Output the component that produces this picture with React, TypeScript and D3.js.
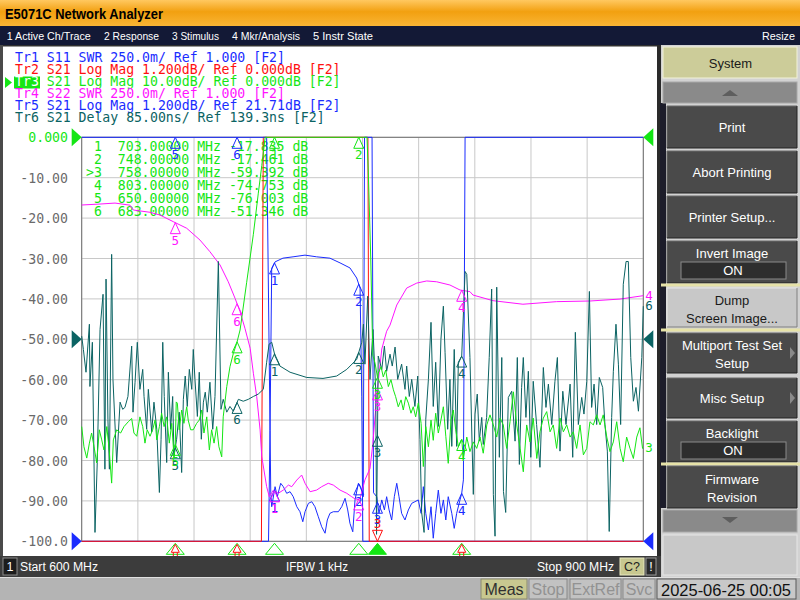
import React from 'react';
import * as d3 from 'd3';

// ---------------- data ----------------
const freqStart = 600;
const freqStop = 900;
const freqGrid = [600, 630, 660, 690, 720, 750, 780, 810, 840, 870, 900];
const yTickValues = [0, -10, -20, -30, -40, -50, -60, -70, -80, -90, -100];
const yTickLabels = ['0.000', '-10.00', '-20.00', '-30.00', '-40.00', '-50.00', '-60.00', '-70.00', '-80.00', '-90.00', '-100.0'];

const markerFreqs = [703, 748, 758, 803, 650, 683];
const markerNames = ['1', '2', '3', '4', '5', '6'];
const markerFreqText = ['703.00000', '748.00000', '758.00000', '803.00000', '650.00000', '683.00000'];
const markerReadouts = ['-17.835', '-17.461', '-59.392', '-74.753', '-76.003', '-51.346'];

const legendNames = ['Tr1', 'Tr2', 'Tr3', 'Tr4', 'Tr5', 'Tr6'];
const legendRest = [
  ' S11 SWR 250.0m/ Ref 1.000 [F2]',
  ' S21 Log Mag 1.200dB/ Ref 0.000dB [F2]',
  ' S21 Log Mag 10.00dB/ Ref 0.000dB [F2]',
  ' S22 SWR 250.0m/ Ref 1.000 [F2]',
  ' S21 Log Mag 1.200dB/ Ref 21.71dB [F2]',
  ' S21 Delay 85.00ns/ Ref 139.3ns [F2]',
];

const menuItems = ['1 Active Ch/Trace', '2 Response', '3 Stimulus', '4 Mkr/Analysis', '5 Instr State'];
const softkeys = ['Print', 'Abort Printing', 'Printer Setup...'];

// Tr1 S11 SWR
const tr1Data: [number, number][] = [
  [600, 6], [698.8, 6], [701.0, 1.3], [701.5, 1.214], [703.3, 1.338], [704.5, 1.276], [706.3, 1.359], [707.7, 1.338],
  [709.5, 1.297], [711.3, 1.307], [713.0, 1.276], [714.9, 1.214], [716.6, 1.183], [718.1, 1.121], [719.3, 1.183],
  [721.1, 1.235], [722.9, 1.245], [724.6, 1.214], [726.4, 1.152], [728.2, 1.09], [730.0, 1.05], [731.2, 1.132],
  [732.6, 1.173], [734.4, 1.183], [737.1, 1.183], [738.9, 1.214], [740.7, 1.266], [742.1, 1.194], [743.3, 1.111],
  [744.8, 1.059], [746.0, 1.256], [747.8, 1.359], [749.0, 1.338], [750.4, 1.276], [751.1, 6], [755.1, 6],
  [755.9, 1.3], [757.6, 1.276], [758.8, 1.173], [760.3, 1.256], [761.7, 1.194], [762.9, 1.276], [764.2, 1.194],
  [765.6, 1.132], [767.0, 1.276], [768.3, 1.359], [769.5, 1.276], [770.9, 1.173], [772.7, 1.132], [774.5, 1.194],
  [776.3, 1.235], [778.0, 1.245], [779.8, 1.256], [781.3, 1.173], [782.5, 1.338], [783.8, 1.173], [785.2, 1.07],
  [786.6, 1.214], [787.8, 1.019], [789.1, 1.173], [790.5, 1.317], [791.9, 1.173], [793.2, 1.256], [794.5, 1.132],
  [795.8, 1.276], [797.7, 1.173], [799.0, 1.08], [800.3, 1.173], [802.1, 1.256], [803.0, 1.297], [803.9, 1.38],
  [804.8, 6], [900, 6],
];

// Tr2 S21 Log Mag (1.2 dB/div)
const tr2Data: [number, number][] = [
  [600, -20], [696.0, -20], [697.0, 1], [752.9, 1], [753.6, -20], [900, -20],
];

// Tr3 S21 Log Mag (10 dB/div) - active trace
const tr3Data: [number, number][] = [
  [600, -71.6], [601.2, -76.6], [602.7, -79.4], [604.1, -75.7], [605.3, -73.2], [606.6, -76.6], [608.0, -80.6],
  [609.4, -72.4], [610.7, -74.9], [611.9, -77.4], [613.4, -71.6], [614.7, -77.4], [616.0, -85.6], [616.9, -74.9],
  [618.7, -72.4], [620.8, -73.2], [622.6, -71.6], [624.9, -70.4], [626.7, -69.6], [627.9, -73.2], [629.4, -74.0],
  [631.1, -69.2], [632.6, -71.6], [633.8, -75.7], [635.0, -72.4], [636.5, -74.0], [637.9, -72.4], [639.2, -70.0],
  [640.1, -74.9], [641.5, -71.6], [642.7, -68.3], [644.0, -71.6], [645.4, -69.2], [646.8, -75.7], [648.1, -70.8],
  [649.3, -79.1], [650.0, -76.0], [650.5, -65.5], [651.1, -65.8], [652.1, -72.4], [653.4, -67.5], [654.6, -70.8],
  [656.1, -66.7], [656.9, -70.0], [658.2, -72.4], [659.6, -72.4], [661.4, -70.8], [662.8, -70.0], [664.1, -67.5],
  [665.3, -73.2], [666.8, -69.2], [668.2, -77.4], [669.4, -72.4], [670.7, -75.7], [672.1, -71.6], [673.3, -76.6],
  [674.8, -79.1], [675.6, -69.2], [677.5, -61.7], [679.2, -56.8], [681.0, -53.5], [682.8, -51.0], [684.6, -47.7],
  [688.1, -36], [691.7, -24], [694.3, -14], [696.2, -7], [698.0, 1], [700, 2], [750, 2], [752.4, 1],
  [753.1, -8.6], [754.4, -29.9], [755.5, -53.9], [756.7, -55.9], [758.0, -59.4], [758.4, -58.4], [759.9, -56.8],
  [761.1, -59.3], [762.4, -57.6], [763.8, -61.7], [765.2, -60.0], [766.5, -62.5], [767.7, -64.2], [769.1, -66.7],
  [770.6, -65.0], [771.8, -67.5], [773.1, -64.2], [774.5, -65.8], [775.9, -68.3], [777.1, -66.7], [778.4, -69.2],
  [779.8, -65.8], [781.3, -70.8], [782.5, -81.5], [783.8, -71.6], [785.2, -76.6], [786.6, -70.0], [787.8, -75.0],
  [789.1, -68.3], [790.5, -73.2], [791.9, -70.0], [793.2, -66.7], [794.5, -74.0], [795.8, -80.7], [797.3, -70.0],
  [798.5, -67.5], [799.8, -72.4], [801.2, -76.6], [802.6, -75.0], [803.0, -74.8], [803.9, -79.5], [805.7, -74.2],
  [807.4, -77.8], [809.2, -75.4], [811.0, -77.0], [812.8, -74.2], [814.5, -78.2], [816.4, -71.2], [818.1, -68.7],
  [819.9, -71.2], [821.7, -74.2], [823.5, -69.5], [825.2, -71.2], [827.0, -77.0], [828.8, -70.4], [830.6, -63.0],
  [832.4, -71.2], [834.2, -77.0], [835.9, -82.8], [837.7, -71.2], [839.5, -75.4], [841.2, -69.5], [843.1, -79.5],
  [844.8, -72.9], [846.6, -69.5], [848.4, -67.9], [850.2, -72.9], [851.9, -71.2], [853.7, -77.0], [855.5, -69.5],
  [857.3, -72.9], [859.1, -71.2], [860.9, -74.2], [862.6, -72.9], [864.4, -77.0], [866.2, -71.2], [868.0, -78.6],
  [869.8, -77.0], [871.5, -70.4], [873.3, -71.2], [875.1, -68.7], [876.9, -71.2], [878.6, -68.7], [880.5, -74.2],
  [882.2, -77.8], [884.0, -75.4], [885.8, -70.4], [887.6, -77.0], [889.3, -80.3], [891.1, -74.2], [892.9, -77.0],
  [894.7, -79.5], [896.5, -74.2], [898.2, -71.9], [899.6, -77.0], [900, -77.0],
];

// Tr4 S22 SWR
const tr4Data: [number, number][] = [
  [600, 3.081], [609.8, 3.087], [617.8, 3.093], [625.8, 3.08], [627.6, 3.05], [636.5, 3.036], [641.8, 3.019],
  [648.9, 2.978], [656.1, 2.937], [663.2, 2.864], [668.5, 2.792], [673.9, 2.71], [678.3, 2.606], [681.9, 2.504],
  [684.6, 2.421], [687.2, 2.318], [690.0, 2.194], [691.7, 2.04], [693.5, 1.895], [695.3, 1.689], [696.2, 1.524],
  [698.8, 1.338], [700.2, 1.276], [702.4, 1.317], [705.0, 1.297], [707.7, 1.317], [710.4, 1.348], [712.2, 1.338],
  [714.9, 1.379], [717.5, 1.41], [719.3, 1.359], [722.0, 1.307], [725.5, 1.317], [728.2, 1.338], [731.7, 1.359],
  [734.4, 1.348], [738.0, 1.317], [741.6, 1.297], [744.2, 1.276], [746.9, 1.256], [748.7, 1.266], [751.3, 1.38],
  [754.0, 1.45], [755.5, 1.6], [757.6, 1.9], [760.3, 2.19], [762.9, 2.3], [764.7, 2.338], [768.3, 2.462],
  [773.6, 2.567], [779.0, 2.598], [784.3, 2.611], [789.6, 2.606], [796.7, 2.586], [802.1, 2.555], [807.4, 2.545],
  [809.0, 2.524], [819.7, 2.489], [835.7, 2.467], [853.7, 2.483], [871.5, 2.487], [887.6, 2.499], [900, 2.52],
];

// Tr5 S21 Log Mag (1.2 dB/div, ref 21.71 dB)
const tr5Data: [number, number][] = [
  [600, 10], [699.8, 10], [700.6, 25], [701.5, 29.82], [703.3, 30.01], [707.5, 30.12], [712.9, 30.16],
  [719.3, 30.21], [725.5, 30.16], [732.6, 30.12], [738.0, 29.98], [743.3, 29.83], [746.9, 29.53], [748.7, 29.23],
  [749.6, 26], [750.2, 10], [900, 10],
];

// Tr6 S21 Group delay (ns)
const tr6Data: [number, number][] = [
  [600, 146], [600.9, 118], [602.3, 70], [604.1, 171], [604.4, 40], [605.7, 133], [607.1, -267], [608.3, -120],
  [609.8, 160], [611.4, 234], [612.4, -134], [613.0, 266], [614.0, -29], [614.8, -134], [616.0, 318], [616.7, 55],
  [618.7, -120], [620.5, 7], [621.9, -8], [623.1, -4], [624.7, 19], [626.7, 125], [627.4, -14], [628.5, 49],
  [629.7, 133], [631.1, 34], [632.6, 76], [633.3, 19], [634.7, -50], [635.6, 34], [637.4, -56], [638.6, 7],
  [640.1, -50], [641.5, -183], [642.4, -71], [643.3, 133], [644.1, 19], [645.4, -120], [646.3, 70], [647.5, -50],
  [648.6, 19], [649.3, -107], [650.7, -71], [652.1, -14], [653.4, -141], [654.3, 13], [655.3, 62], [656.4, -2],
  [657.5, 76], [658.8, 34], [659.6, 118], [660.5, 55], [661.8, -23], [662.8, 70], [663.9, -71], [665.0, 7],
  [666.0, 28], [667.1, -14], [668.5, 49], [670.0, -50], [671.2, 19], [673.0, 303], [674.4, -8], [675.6, 13],
  [677.5, -14], [679.2, -2], [681.0, -12], [683.7, 13], [686.3, 9], [689.0, 13], [691.7, 19], [694.3, 24],
  [697.0, 34], [698.8, 91], [700.1, 129], [701.5, 133], [703.3, 104], [705.9, 83], [711.3, 70], [720.2, 59],
  [728.9, 57], [736.2, 62], [741.6, 76], [746.9, 97], [749.6, 133], [750.5, 171], [751.3, 87], [752.8, 230],
  [754.0, 55], [755.6, 160], [757.1, 28], [757.5, -271], [758.4, 104], [760.3, 76], [761.7, 125], [762.9, 72],
  [764.7, 108], [765.9, 83], [767.4, 123], [768.8, 55], [770.9, 87], [772.7, 34], [773.6, 83], [775.0, 19],
  [776.3, 55], [778.0, -2], [779.5, 62], [780.7, -71], [781.6, -225], [782.9, -267], [783.8, -29], [785.2, 55],
  [786.6, 175], [787.8, -2], [789.1, 91], [790.5, -44], [791.9, 139], [793.2, 209], [794.1, 112], [795.5, -50],
  [796.7, 55], [797.7, -86], [799.0, 118], [800.3, -86], [801.2, 91], [803.0, 104], [804.8, 282], [805.7, 276],
  [807.4, 101], [809.2, -187], [810.1, -18], [811.3, 24], [812.4, -75], [813.7, -25], [814.5, -82], [816.3, -25],
  [817.7, 101], [819.0, 245], [819.9, -187], [820.8, -275], [821.7, 249], [823.1, -109], [824.4, 101],
  [825.3, -181], [826.5, -225], [827.9, 17], [829.7, 30], [831.5, -75], [832.7, 101], [833.8, -124], [835.0, 38],
  [835.9, 101], [837.3, -25], [838.6, 72], [839.9, -109], [841.2, 51], [843.0, -40], [844.8, -130], [846.6, 80],
  [848.0, -4], [849.3, 45], [851.1, -40], [852.8, 51], [854.1, 101], [855.5, -96], [857.0, 30], [858.7, -40],
  [860.9, 45], [862.3, -109], [863.7, 154], [865.3, -40], [867.1, 17], [868.3, -18], [869.8, 51], [871.2, 240],
  [872.4, -4], [873.7, 45], [875.1, -40], [876.5, 59], [878.3, 38], [879.5, -40], [880.8, -96], [881.8, -265],
  [883.1, -25], [884.0, 72], [885.4, 171], [886.7, 87], [887.9, -40], [889.3, 255], [890.8, 303], [892.0, 303],
  [893.3, 101], [894.7, 9], [896.1, 38], [897.4, -12], [899.2, 101], [900, 209],
];

// ---------------- styling ----------------
const BLUE = '#1a2cff';
const RED = '#ff1010';
const GREEN = '#14e614';
const MAGENTA = '#ff14ff';
const TEAL = '#0b6363';
const GRID = '#c8c8c8';
const MONO = '"DejaVu Sans Mono", monospace';
const SANS = '"Liberation Sans", Arial, sans-serif';
const legendColors = [BLUE, RED, GREEN, MAGENTA, BLUE, TEAL];

const PL = 81.7, PR = 643.3, PT = 137.3, PB = 541.3;

function valueAt(data: [number, number][], f: number) {
  const i = d3.bisector((d: [number, number]) => d[0]).left(data, f);
  if (i <= 0) return data[0][1];
  if (i >= data.length) return data[data.length - 1][1];
  const [f0, v0] = data[i - 1];
  const [f1, v1] = data[i];
  return v0 + ((v1 - v0) * (f - f0)) / (f1 - f0);
}

function MarkerGlyph({ x, y, label, color }: { x: number; y: number; label: string; color: string }) {
  return (
    <g>
      <path d={`M${x},${y}L${x - 5},${y + 11}L${x + 5},${y + 11}Z`} fill="none" stroke={color} strokeWidth={1} />
      <text x={x} y={y + 22} textAnchor="middle" fontSize={12.5} fontFamily={MONO} fill={color}>{label}</text>
    </g>
  );
}

function Button({ y, h, lines, dark = true, arrow = false, onBox = false }: any) {
  const fill = dark ? '#4a4a4a' : '#c8c8c8';
  const tc = dark ? '#ffffff' : '#1a1a1a';
  const cy = y + h / 2;
  return (
    <g>
      <rect x={667} y={y} width={130} height={h} fill={fill} />
      <path d={`M667,${y + h}V${y}H797`} fill="none" stroke={dark ? '#6a6a6a' : '#e8e8e8'} />
      <path d={`M667,${y + h}H797V${y}`} fill="none" stroke={dark ? '#222' : '#808080'} />
      {onBox ? (
        <g>
          <text x={732} y={y + 17} textAnchor="middle" fontSize={13} fontFamily={SANS} fill={tc}>{lines[0]}</text>
          <rect x={681} y={y + 21} width={105} height={17} fill="#2e2e2e" stroke="#8a8a8a" />
          <text x={733} y={y + 34} textAnchor="middle" fontSize={13} fontFamily={SANS} fill="#fff">ON</text>
        </g>
      ) : lines.length === 1 ? (
        <text x={732} y={cy + 5} textAnchor="middle" fontSize={13} fontFamily={SANS} fill={tc}>{lines[0]}</text>
      ) : (
        <g>
          <text x={732} y={cy - 3} textAnchor="middle" fontSize={13} fontFamily={SANS} fill={tc}>{lines[0]}</text>
          <text x={732} y={cy + 15} textAnchor="middle" fontSize={13} fontFamily={SANS} fill={tc}>{lines[1]}</text>
        </g>
      )}
      {arrow && <path d={`M790,${cy - 6}L795,${cy}L790,${cy + 6}Z`} fill="#8a8a8a" />}
    </g>
  );
}

export default function App() {
  const x = d3.scaleLinear().domain([freqStart, freqStop]).range([PL, PR]);
  const yDb3 = d3.scaleLinear().domain([-100, 0]).range([PB, PT]).clamp(true);
  const ySwr = d3.scaleLinear().domain([1, 3.5]).range([PB, PT]).clamp(true);
  const yDb2 = d3.scaleLinear().domain([-12, 0]).range([PB, PT]).clamp(true);
  const yDb5 = d3.scaleLinear().domain([21.71, 33.71]).range([PB, PT]).clamp(true);
  const yDelay = d3.scaleLinear().domain([139.3 - 5 * 85, 139.3 + 5 * 85]).range([PB, PT]).clamp(true);

  const traces = [
    { id: 'tr5', color: BLUE, data: tr5Data, y: yDb5, markers: [0, 1] },
    { id: 'tr2', color: RED, data: tr2Data, y: yDb2, markers: [] as number[] },
    { id: 'tr1', color: BLUE, data: tr1Data, y: ySwr, markers: [0, 1, 2, 3, 4, 5] },
    { id: 'tr4', color: MAGENTA, data: tr4Data, y: ySwr, markers: [0, 1, 2, 3, 4, 5] },
    { id: 'tr6', color: TEAL, data: tr6Data, y: yDelay, markers: [0, 1, 2, 3, 4, 5] },
    { id: 'tr3', color: GREEN, data: tr3Data, y: yDb3, markers: [0, 1, 2, 3, 4, 5] },
  ];

  const endLabels = [
    { name: '4', color: MAGENTA, data: tr4Data, y: ySwr },
    { name: '6', color: TEAL, data: tr6Data, y: yDelay },
    { name: '3', color: GREEN, data: tr3Data, y: yDb3 },
  ];

  const menuX = [6.7, 104, 172, 232, 313];
  const menuW = [84, 55, 47, 68, 60];

  return (
    <div style={{ position: 'fixed', left: 0, top: 0, width: 800, height: 600 }}>
      <svg width={800} height={600} style={{ display: 'block' }}>
        <defs>
          <linearGradient id="titleGrad" x1="0" y1="0" x2="0" y2="1">
            <stop offset="0" stopColor="#ffc860" />
            <stop offset="0.45" stopColor="#f2a010" />
            <stop offset="1" stopColor="#f9b535" />
          </linearGradient>
        </defs>
        <rect x={0} y={0} width={800} height={600} fill="#c4c4c4" />
        {/* title bar */}
        <rect x={0} y={0} width={800} height={26} fill="url(#titleGrad)" />
        <text x={5} y={19} fontSize={14} fontWeight="bold" fontFamily={SANS} fill="#000" textLength={158} lengthAdjust="spacingAndGlyphs">E5071C Network Analyzer</text>
        {/* menu bar */}
        <rect x={0} y={26} width={800} height={19} fill="#131936" />
        {menuItems.map((m, i) => (
          <text key={m} x={menuX[i]} y={39.5} fontSize={11.5} fontFamily={SANS} fill="#fff" textLength={menuW[i]} lengthAdjust="spacingAndGlyphs">{m}</text>
        ))}
        <text x={762} y={39.5} fontSize={11.5} fontFamily={SANS} fill="#fff" textLength={33} lengthAdjust="spacingAndGlyphs">Resize</text>

        {/* main window */}
        <rect x={0} y={45} width={3} height={512} fill="#4a4a4a" />
        <rect x={3} y={45} width={654} height={511} fill="#ffffff" />
        <rect x={3} y={45} width={654} height={1.5} fill="#303030" />
        <rect x={657} y={45} width={4} height={512} fill="#2a2a2a" />

        {/* trace legend */}
        <rect x={14} y={76.5} width={26} height={12} fill={GREEN} />
        <path d="M5,77L12,82.5L5,88Z" fill={GREEN} />
        {legendNames.map((n, i) => (
          <text key={n} x={15} y={62 + i * 11.9} fontSize={13.2} fontFamily={MONO} fill={legendColors[i]} style={{ whiteSpace: 'pre' }}>
            <tspan fill={i === 2 ? '#ffffff' : legendColors[i]}>{n}</tspan>
            <tspan>{legendRest[i]}</tspan>
          </text>
        ))}

        {/* grid */}
        {freqGrid.map((f) => (
          <line key={'gx' + f} x1={x(f)} x2={x(f)} y1={PT} y2={PB} stroke={GRID} />
        ))}
        {yTickValues.map((v) => (
          <line key={'gy' + v} x1={PL} x2={PR} y1={yDb3(v)} y2={yDb3(v)} stroke={GRID} />
        ))}
        <rect x={PL} y={PT} width={PR - PL} height={PB - PT} fill="none" stroke="#707070" />

        {/* y tick labels */}
        {yTickValues.map((v, i) => (
          <text key={'yl' + v} x={68} y={yDb3(v) + 5} textAnchor="end" fontSize={13.2} fontFamily={MONO} fill={i === 0 ? GREEN : '#6a6a6a'}>{yTickLabels[i]}</text>
        ))}

        {/* marker table */}
        {markerNames.map((n, i) => (
          <text key={'mt' + n} x={86} y={151.3 + i * 13} fontSize={13.2} fontFamily={MONO} fill={GREEN} style={{ whiteSpace: 'pre' }}>
            {(i === 2 ? '>' : ' ') + n + '  ' + markerFreqText[i] + ' MHz ' + markerReadouts[i] + ' dB'}
          </text>
        ))}

        {/* traces */}
        {traces.map((t) => {
          const line = d3.line<[number, number]>().x((d) => x(d[0])).y((d) => t.y(d[1]));
          return <path key={t.id} d={line(t.data) || ''} fill="none" stroke={t.color} strokeWidth={1} />;
        })}

        {/* markers on traces */}
        {traces.map((t) =>
          t.markers.map((mi) => {
            const f = markerFreqs[mi];
            const yy = t.y(valueAt(t.data, f));
            return <MarkerGlyph key={t.id + 'm' + mi} x={x(f)} y={yy} label={markerNames[mi]} color={t.color} />;
          })
        )}

        {/* Tr2 off-scale active marker (inverted, at bottom) */}
        {(() => {
          const mx = x(markerFreqs[2]);
          return (
            <g>
              <path d={`M${mx - 5},${PB - 11}L${mx + 5},${PB - 11}L${mx},${PB}Z`} fill="none" stroke={RED} />
              <text x={mx} y={PB - 13} textAnchor="middle" fontSize={12.5} fontFamily={MONO} fill={RED}>{markerNames[2]}</text>
            </g>
          );
        })()}

        {/* stimulus marker indicators below grid */}
        {markerFreqs.map((f, i) => {
          const mx = x(f);
          return (
            <path key={'bi' + i} d={`M${mx},${PB + 2}L${mx - 9},${PB + 13}L${mx + 9},${PB + 13}Z`} fill={i === 2 ? GREEN : 'none'} stroke={GREEN} />
          );
        })}
        {[3, 4, 5].map((i) => {
          const mx = x(markerFreqs[i]);
          return (
            <g key={'ri' + i}>
              <path d={`M${mx},${PB + 3}L${mx - 4},${PB + 11}L${mx + 4},${PB + 11}Z`} fill="none" stroke={RED} />
              <line x1={mx - 2} x2={mx - 2} y1={PB + 11} y2={PB + 15} stroke={RED} />
              <line x1={mx + 2} x2={mx + 2} y1={PB + 11} y2={PB + 15} stroke={RED} />
            </g>
          );
        })}

        {/* reference position arrows */}
        {[
          { y: yDb3(0), c: GREEN },
          { y: yDelay(139.3), c: TEAL },
          { y: ySwr(1), c: BLUE },
        ].map((r, i) => (
          <g key={'ref' + i}>
            <path d={`M${PL - 10},${r.y - 9}L${PL},${r.y}L${PL - 10},${r.y + 9}Z`} fill={r.c} />
            <path d={`M${PR + 10},${r.y - 9}L${PR},${r.y}L${PR + 10},${r.y + 9}Z`} fill={r.c} />
          </g>
        ))}

        {/* trace end labels */}
        {endLabels.map((e) => (
          <text key={'el' + e.name} x={PR + 2} y={e.y(e.data[e.data.length - 1][1]) + 4} fontSize={12.5} fontFamily={MONO} fill={e.color}>{e.name}</text>
        ))}

        {/* channel status bar */}
        <rect x={0} y={556} width={661} height={21} fill="#3c3c3c" />
        <rect x={3} y={558} width={14} height={17} fill="#1c1c1c" stroke="#8a8a8a" />
        <text x={10} y={571} textAnchor="middle" fontSize={12.5} fontFamily={SANS} fill="#fff">1</text>
        <text x={20} y={571} fontSize={12.5} fontFamily={SANS} fill="#fff" textLength={78} lengthAdjust="spacingAndGlyphs">Start 600 MHz</text>
        <text x={286} y={571} fontSize={12.5} fontFamily={SANS} fill="#fff" textLength={62} lengthAdjust="spacingAndGlyphs">IFBW 1 kHz</text>
        <text x={537} y={571} fontSize={12.5} fontFamily={SANS} fill="#fff" textLength={77} lengthAdjust="spacingAndGlyphs">Stop 900 MHz</text>
        <rect x={620} y={558} width={24} height={17} fill="#c8c890" stroke="#e8e8c0" />
        <text x={632} y={571} textAnchor="middle" fontSize={12.5} fontFamily={SANS} fill="#202020">C?</text>
        <rect x={646} y={558} width={10} height={17} fill="#2a2a2a" stroke="#9a9a9a" />
        <text x={651} y={571} textAnchor="middle" fontSize={12.5} fontFamily={SANS} fill="#fff">!</text>

        {/* instrument status bar */}
        <rect x={0} y={577} width={800} height={23} fill="#b4b4b4" />
        <rect x={0} y={577} width={800} height={1} fill="#e0e0e0" />
        <rect x={481} y={579} width={46} height={20} fill="#c8c890" stroke="#8a8a70" />
        <text x={504} y={595} textAnchor="middle" fontSize={16} fontFamily={SANS} fill="#303030">Meas</text>
        <rect x={529} y={579} width={38} height={20} fill="#c2c2c2" stroke="#8a8a8a" />
        <text x={548} y={595} textAnchor="middle" fontSize={16} fontFamily={SANS} fill="#929292">Stop</text>
        <rect x={570} y={579} width={51} height={20} fill="#c2c2c2" stroke="#8a8a8a" />
        <text x={595.5} y={595} textAnchor="middle" fontSize={16} fontFamily={SANS} fill="#929292">ExtRef</text>
        <rect x={623} y={579} width={32} height={20} fill="#c2c2c2" stroke="#8a8a8a" />
        <text x={639} y={595} textAnchor="middle" fontSize={16} fontFamily={SANS} fill="#929292">Svc</text>
        <rect x={657} y={579} width={139} height={20} fill="#c8c8c8" stroke="#5a5a5a" />
        <text x={661} y={595.5} fontSize={16.5} fontFamily={SANS} fill="#111" textLength={130} lengthAdjust="spacingAndGlyphs">2025-06-25 00:05</text>

        {/* softkey panel */}
        <rect x={661} y={45} width={139} height={532} fill="#d2d2d2" />
        <rect x={660} y={103} width={6} height={405} fill="#1c1c2a" />
        <rect x={663} y={47} width={134} height={31} fill="#cccc99" stroke="#f2f2d8" />
        <text x={730.5} y={68} textAnchor="middle" fontSize={13} fontFamily={SANS} fill="#1a1a1a">System</text>
        <rect x={663} y={82} width={134} height={21} fill="#8a8a8a" stroke="#a8a8a8" />
        <path d="M722,96L738,96L730,90Z" fill="#5e5e5e" />
        {softkeys.map((s, i) => (
          <Button key={s} y={106 + i * 45} h={42} lines={[s]} />
        ))}
        <Button y={241} h={42} lines={['Invert Image']} onBox />
        <rect x={661} y={283.5} width={139} height={3} fill="#e6e2a8" />
        <Button y={288} h={39} lines={['Dump', 'Screen Image...']} dark={false} />
        <rect x={661} y={328.5} width={139} height={3} fill="#e6e2a8" />
        <Button y={333} h={40} lines={['Multiport Test Set', 'Setup']} arrow />
        <Button y={378} h={40} lines={['Misc Setup']} arrow />
        <Button y={421} h={41} lines={['Backlight']} onBox />
        <rect x={661} y={462.5} width={139} height={3} fill="#e6e2a8" />
        <Button y={466} h={42} lines={['Firmware', 'Revision']} />
        <rect x={663} y={510} width={134} height={22} fill="#8a8a8a" stroke="#a8a8a8" />
        <path d="M722,517L738,517L730,523Z" fill="#5e5e5e" />
        <rect x={663} y={535} width={134} height={40} fill="#c8c8c8" stroke="#e6e6e6" />
      </svg>
    </div>
  );
}
